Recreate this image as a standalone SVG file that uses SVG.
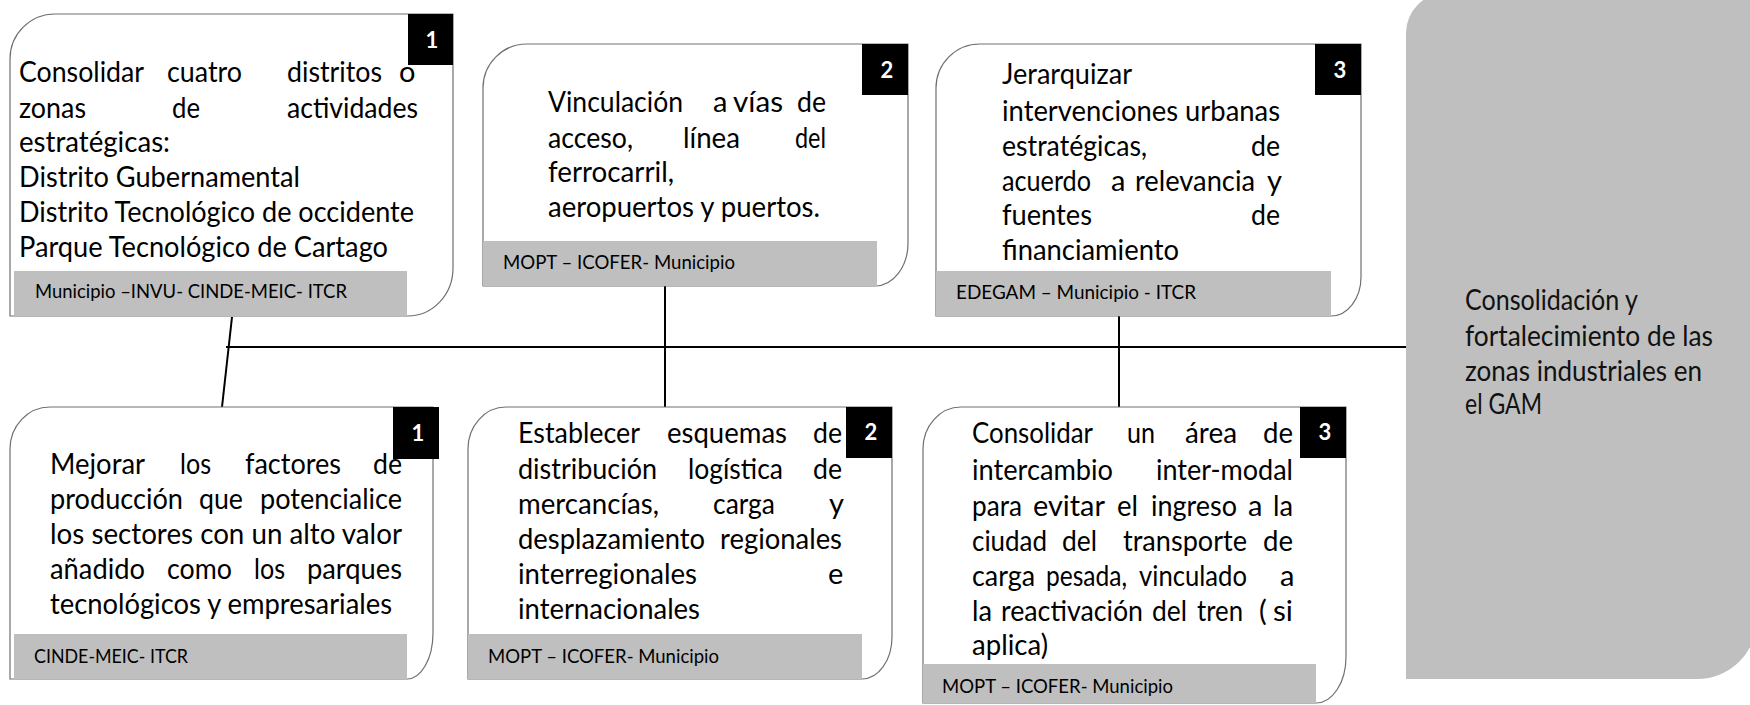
<svg xmlns="http://www.w3.org/2000/svg" width="1750" height="705" viewBox="0 0 1750 705">
<style>
text{font-family:Lato,"Liberation Sans",sans-serif;fill:#000}
.t{font-size:29px}
.s{font-size:19px}
.b{font-size:28px;fill:#111}
.n{font-size:22px;font-weight:bold;fill:#fff;text-anchor:middle}
.box{fill:#fff;stroke:#707070;stroke-width:1.2}
.bar{fill:#bfbfbf}
.blk{fill:#000}
.c{stroke:#000;stroke-width:2;fill:none}
</style>
<rect x="0" y="0" width="1750" height="705" fill="#fff"/>
<g id="connectors">
<line class="c" x1="232" y1="317" x2="222" y2="407"/>
<line class="c" x1="226" y1="347" x2="1406" y2="347" stroke-width="2.5"/>
<line class="c" x1="665" y1="286" x2="665" y2="407"/>
<line class="c" x1="1119" y1="316" x2="1119" y2="407"/>
</g>
<g id="n1">
<path class="box" d="M10 316V59A45 45 0 0 1 55 14H453V268A45 48 0 0 1 408 316Z"/>
<rect class="bar" x="14" y="271" width="393" height="45"/>
<rect class="blk" x="408" y="14" width="45" height="51"/>
<text class="n" x="432" y="48">1</text>
<text class="t" x="19" y="82" textLength="125" lengthAdjust="spacingAndGlyphs">Consolidar</text>
<text class="t" x="167" y="82" textLength="75" lengthAdjust="spacingAndGlyphs">cuatro</text>
<text class="t" x="287" y="82" textLength="95" lengthAdjust="spacingAndGlyphs">distritos</text>
<text class="t" x="399" y="82">o</text>
<text class="t" x="19" y="118" textLength="67" lengthAdjust="spacingAndGlyphs">zonas</text>
<text class="t" x="172" y="118" textLength="28" lengthAdjust="spacingAndGlyphs">de</text>
<text class="t" x="287" y="118" textLength="131" lengthAdjust="spacingAndGlyphs">actividades</text>
<text class="t" x="19" y="152" textLength="151" lengthAdjust="spacingAndGlyphs">estratégicas:</text>
<text class="t" x="19" y="187" textLength="281" lengthAdjust="spacingAndGlyphs">Distrito Gubernamental</text>
<text class="t" x="19" y="222" textLength="395" lengthAdjust="spacingAndGlyphs">Distrito Tecnológico de occidente</text>
<text class="t" x="19" y="257" textLength="369" lengthAdjust="spacingAndGlyphs">Parque Tecnológico de Cartago</text>
<text class="s" x="35" y="298" textLength="312" lengthAdjust="spacingAndGlyphs">Municipio –INVU- CINDE-MEIC- ITCR</text>
</g>
<g id="n2">
<path class="box" d="M483 286V88A44 44 0 0 1 527 44H908V243A33 43 0 0 1 875 286Z"/>
<rect class="bar" x="483" y="241" width="394" height="45"/>
<rect class="blk" x="862" y="44" width="46" height="51"/>
<text class="n" x="887" y="78">2</text>
<text class="t" x="548" y="112" textLength="135" lengthAdjust="spacingAndGlyphs">Vinculación</text>
<text class="t" x="713" y="112">a</text>
<text class="t" x="733" y="112" textLength="50" lengthAdjust="spacingAndGlyphs">vías</text>
<text class="t" x="797" y="112" textLength="29" lengthAdjust="spacingAndGlyphs">de</text>
<text class="t" x="548" y="148" textLength="85" lengthAdjust="spacingAndGlyphs">acceso,</text>
<text class="t" x="683" y="148" textLength="57" lengthAdjust="spacingAndGlyphs">línea</text>
<text class="t" x="795" y="148" textLength="31" lengthAdjust="spacingAndGlyphs">del</text>
<text class="t" x="548" y="182" textLength="126" lengthAdjust="spacingAndGlyphs">ferrocarril,</text>
<text class="t" x="548" y="217" textLength="272" lengthAdjust="spacingAndGlyphs">aeropuertos y puertos.</text>
<text class="s" x="503" y="269" textLength="232" lengthAdjust="spacingAndGlyphs">MOPT – ICOFER- Municipio</text>
</g>
<g id="n3">
<path class="box" d="M936 316V88A44 44 0 0 1 980 44H1361V277A30 39 0 0 1 1331 316Z"/>
<rect class="bar" x="936" y="271" width="395" height="45"/>
<rect class="blk" x="1315" y="44" width="46" height="51"/>
<text class="n" x="1340" y="78">3</text>
<text class="t" x="1002" y="84" textLength="130" lengthAdjust="spacingAndGlyphs">Jerarquizar</text>
<text class="t" x="1002" y="121" textLength="278" lengthAdjust="spacingAndGlyphs">intervenciones urbanas</text>
<text class="t" x="1002" y="156" textLength="145" lengthAdjust="spacingAndGlyphs">estratégicas,</text>
<text class="t" x="1251" y="156" textLength="29" lengthAdjust="spacingAndGlyphs">de</text>
<text class="t" x="1002" y="191" textLength="89" lengthAdjust="spacingAndGlyphs">acuerdo</text>
<text class="t" x="1111" y="191">a</text>
<text class="t" x="1135" y="191" textLength="120" lengthAdjust="spacingAndGlyphs">relevancia</text>
<text class="t" x="1267" y="191">y</text>
<text class="t" x="1002" y="225" textLength="90" lengthAdjust="spacingAndGlyphs">fuentes</text>
<text class="t" x="1251" y="225" textLength="29" lengthAdjust="spacingAndGlyphs">de</text>
<text class="t" x="1002" y="260" textLength="177" lengthAdjust="spacingAndGlyphs">financiamiento</text>
<text class="s" x="956" y="299" textLength="240" lengthAdjust="spacingAndGlyphs">EDEGAM – Municipio - ITCR</text>
</g>
<g id="n4">
<path class="box" d="M10 679V449A40 42 0 0 1 50 407H433V633A26 46 0 0 1 407 679Z"/>
<rect class="bar" x="14" y="634" width="393" height="45"/>
<rect class="blk" x="393" y="407" width="46" height="52"/>
<text class="n" x="418" y="441">1</text>
<text class="t" x="50" y="474" textLength="95" lengthAdjust="spacingAndGlyphs">Mejorar</text>
<text class="t" x="180" y="474" textLength="31" lengthAdjust="spacingAndGlyphs">los</text>
<text class="t" x="245" y="474" textLength="96" lengthAdjust="spacingAndGlyphs">factores</text>
<text class="t" x="373" y="474" textLength="29" lengthAdjust="spacingAndGlyphs">de</text>
<text class="t" x="50" y="509" textLength="133" lengthAdjust="spacingAndGlyphs">producción</text>
<text class="t" x="199" y="509" textLength="44" lengthAdjust="spacingAndGlyphs">que</text>
<text class="t" x="260" y="509" textLength="142" lengthAdjust="spacingAndGlyphs">potencialice</text>
<text class="t" x="50" y="544" textLength="352" lengthAdjust="spacingAndGlyphs">los sectores con un alto valor</text>
<text class="t" x="50" y="579" textLength="95" lengthAdjust="spacingAndGlyphs">añadido</text>
<text class="t" x="167" y="579" textLength="65" lengthAdjust="spacingAndGlyphs">como</text>
<text class="t" x="254" y="579" textLength="31" lengthAdjust="spacingAndGlyphs">los</text>
<text class="t" x="307" y="579" textLength="95" lengthAdjust="spacingAndGlyphs">parques</text>
<text class="t" x="50" y="614" textLength="342" lengthAdjust="spacingAndGlyphs">tecnológicos y empresariales</text>
<text class="s" x="34" y="663" textLength="154" lengthAdjust="spacingAndGlyphs">CINDE-MEIC- ITCR</text>
</g>
<g id="n5">
<path class="box" d="M468 679V449A38 42 0 0 1 506 407H892V637A30 42 0 0 1 862 679Z"/>
<rect class="bar" x="468" y="634" width="394" height="45"/>
<rect class="blk" x="846" y="407" width="46" height="51"/>
<text class="n" x="871" y="440">2</text>
<text class="t" x="518" y="443" textLength="122" lengthAdjust="spacingAndGlyphs">Establecer</text>
<text class="t" x="667" y="443" textLength="120" lengthAdjust="spacingAndGlyphs">esquemas</text>
<text class="t" x="813" y="443" textLength="29" lengthAdjust="spacingAndGlyphs">de</text>
<text class="t" x="518" y="479" textLength="139" lengthAdjust="spacingAndGlyphs">distribución</text>
<text class="t" x="688" y="479" textLength="95" lengthAdjust="spacingAndGlyphs">logística</text>
<text class="t" x="813" y="479" textLength="29" lengthAdjust="spacingAndGlyphs">de</text>
<text class="t" x="518" y="514" textLength="141" lengthAdjust="spacingAndGlyphs">mercancías,</text>
<text class="t" x="713" y="514" textLength="62" lengthAdjust="spacingAndGlyphs">carga</text>
<text class="t" x="829" y="514">y</text>
<text class="t" x="518" y="549" textLength="187" lengthAdjust="spacingAndGlyphs">desplazamiento</text>
<text class="t" x="720" y="549" textLength="122" lengthAdjust="spacingAndGlyphs">regionales</text>
<text class="t" x="518" y="584" textLength="179" lengthAdjust="spacingAndGlyphs">interregionales</text>
<text class="t" x="828" y="584">e</text>
<text class="t" x="518" y="619" textLength="182" lengthAdjust="spacingAndGlyphs">internacionales</text>
<text class="s" x="488" y="663" textLength="231" lengthAdjust="spacingAndGlyphs">MOPT – ICOFER- Municipio</text>
</g>
<g id="n6">
<path class="box" d="M923 703V449A38 42 0 0 1 961 407H1346V657A30 46 0 0 1 1316 703Z"/>
<rect class="bar" x="923" y="664" width="393" height="39"/>
<rect class="blk" x="1300" y="407" width="46" height="51"/>
<text class="n" x="1325" y="440">3</text>
<text class="t" x="972" y="443" textLength="121" lengthAdjust="spacingAndGlyphs">Consolidar</text>
<text class="t" x="1127" y="443" textLength="28" lengthAdjust="spacingAndGlyphs">un</text>
<text class="t" x="1185" y="443" textLength="52" lengthAdjust="spacingAndGlyphs">área</text>
<text class="t" x="1263" y="443" textLength="30" lengthAdjust="spacingAndGlyphs">de</text>
<text class="t" x="972" y="480" textLength="141" lengthAdjust="spacingAndGlyphs">intercambio</text>
<text class="t" x="1156" y="480" textLength="137" lengthAdjust="spacingAndGlyphs">inter-modal</text>
<text class="t" x="972" y="516" textLength="50" lengthAdjust="spacingAndGlyphs">para</text>
<text class="t" x="1033" y="516" textLength="72" lengthAdjust="spacingAndGlyphs">evitar</text>
<text class="t" x="1117" y="516" textLength="21" lengthAdjust="spacingAndGlyphs">el</text>
<text class="t" x="1151" y="516" textLength="86" lengthAdjust="spacingAndGlyphs">ingreso</text>
<text class="t" x="1248" y="516">a</text>
<text class="t" x="1273" y="516" textLength="20" lengthAdjust="spacingAndGlyphs">la</text>
<text class="t" x="972" y="551" textLength="75" lengthAdjust="spacingAndGlyphs">ciudad</text>
<text class="t" x="1062" y="551" textLength="35" lengthAdjust="spacingAndGlyphs">del</text>
<text class="t" x="1123" y="551" textLength="124" lengthAdjust="spacingAndGlyphs">transporte</text>
<text class="t" x="1263" y="551" textLength="30" lengthAdjust="spacingAndGlyphs">de</text>
<text class="t" x="972" y="586" textLength="63" lengthAdjust="spacingAndGlyphs">carga</text>
<text class="t" x="1046" y="586" textLength="81" lengthAdjust="spacingAndGlyphs">pesada,</text>
<text class="t" x="1139" y="586" textLength="108" lengthAdjust="spacingAndGlyphs">vinculado</text>
<text class="t" x="1280" y="586">a</text>
<text class="t" x="972" y="621" textLength="20" lengthAdjust="spacingAndGlyphs">la</text>
<text class="t" x="1001" y="621" textLength="142" lengthAdjust="spacingAndGlyphs">reactivación</text>
<text class="t" x="1152" y="621" textLength="35" lengthAdjust="spacingAndGlyphs">del</text>
<text class="t" x="1197" y="621" textLength="46" lengthAdjust="spacingAndGlyphs">tren</text>
<text class="t" x="1259" y="621">(</text>
<text class="t" x="1273" y="621" textLength="20" lengthAdjust="spacingAndGlyphs">si</text>
<text class="t" x="972" y="655" textLength="76" lengthAdjust="spacingAndGlyphs">aplica)</text>
<text class="s" x="942" y="693" textLength="231" lengthAdjust="spacingAndGlyphs">MOPT – ICOFER- Municipio</text>
</g>
<g id="n7">
<path class="bar" d="M1406 679V33A40 40 0 0 1 1446 -7H1757V619A60 60 0 0 1 1697 679Z"/>
<text class="b" x="1465" y="310" textLength="173" lengthAdjust="spacingAndGlyphs">Consolidación y</text>
<text class="b" x="1465" y="346" textLength="248" lengthAdjust="spacingAndGlyphs">fortalecimiento de las</text>
<text class="b" x="1465" y="381" textLength="237" lengthAdjust="spacingAndGlyphs">zonas industriales en</text>
<text class="b" x="1465" y="414" textLength="77" lengthAdjust="spacingAndGlyphs">el GAM</text>
</g>
</svg>
